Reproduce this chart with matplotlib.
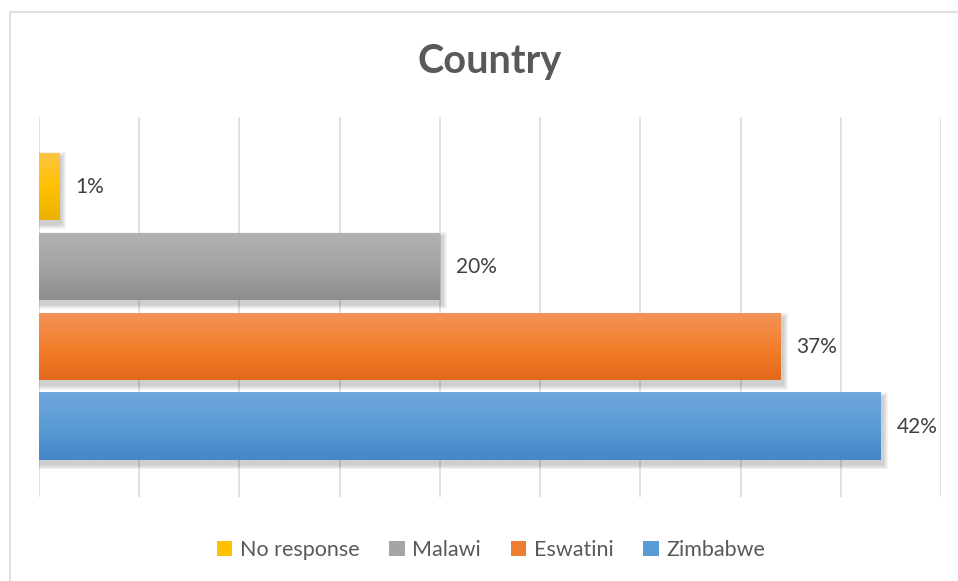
import numpy as np
import matplotlib
matplotlib.use("Agg")
import matplotlib.pyplot as plt
from matplotlib.colors import LinearSegmentedColormap
from matplotlib.patches import Rectangle, Patch

# survey share by country (percent)
countries = ["No response", "Malawi", "Eswatini", "Zimbabwe"]
shares = [1, 20, 37, 42]
# top, middle, bottom shades of each bar's gradient
shades = [
    ["#FBC443", "#FFC000", "#EBB300"],
    ["#B1B1B1", "#A3A3A3", "#8E8E8E"],
    ["#F29258", "#F47F2C", "#E2691A"],
    ["#70A7DD", "#5B9BD5", "#4487CA"],
]
legend_colors = ["#FFC000", "#A5A5A5", "#ED7D31", "#5B9BD5"]

W, H = 958, 581
fig = plt.figure(figsize=(W / 100, H / 100), dpi=100)
fig.patch.set_facecolor("white")

# chart area frame (only left/top edges fall inside the image)
fig.patches.append(Rectangle((10 / W, -0.05), 1.2, 1 - 12 / H + 0.05,
                             transform=fig.transFigure, fill=False,
                             edgecolor="#d9d9d9", linewidth=1.2))

ax_l, ax_r, ax_t, ax_b = 39, 941, 117, 497
ax = fig.add_axes([ax_l / W, 1 - ax_b / H, (ax_r - ax_l) / W, (ax_b - ax_t) / H])

xmax = 45
ylo, yhi = 3.875, -0.875
bar_h = 0.8375
ypos = np.arange(len(countries))

# pixel -> data scale for shadows
px_x = xmax / (ax_r - ax_l)
px_y = (ylo - yhi) / (ax_b - ax_t)

for y, v, cols in zip(ypos, shares, shades):
    # soft drop shadow, shifted down and to the right
    for k in range(5, 0, -1):
        ax.add_patch(Rectangle((2 * px_x - k * px_x, y - bar_h / 2 + 4 * px_y - k * px_y),
                               v + 2 * k * px_x, bar_h + 2 * k * px_y,
                               facecolor="black", edgecolor="none", alpha=0.04, zorder=2))
    cmap = LinearSegmentedColormap.from_list("g", cols)
    grad = np.linspace(0, 1, 64).reshape(-1, 1)
    ax.imshow(grad, extent=(0, v, y + bar_h / 2, y - bar_h / 2), origin="upper",
              aspect="auto", cmap=cmap, zorder=3, interpolation="bilinear")
    ax.annotate(f"{v}%", xy=(v, y), xytext=(16, 0), textcoords="offset pixels",
                ha="left", va="center", fontsize=15, color="#404040", family="Lato")

ax.set_xlim(0, xmax)
ax.set_ylim(ylo, yhi)
ax.set_aspect("auto")
ax.set_xticks(np.arange(0, xmax + 1, 5))
ax.set_yticks([])
ax.tick_params(axis="x", length=0, labelbottom=False)
ax.grid(axis="x", color="#d9d9d9", linewidth=1.1, zorder=0)
ax.set_axisbelow(True)
for s in ax.spines.values():
    s.set_visible(False)

fig.text(490 / W, 1 - 61 / H, "Country", ha="center", va="center",
         fontsize=28.5, fontweight="bold", color="#595959", family="Lato")

handles = [Patch(facecolor=c, edgecolor="none") for c in legend_colors]
fig.legend(handles, countries, loc="center", bbox_to_anchor=(491 / W, 1 - 550 / H),
           ncol=4, frameon=False, handlelength=0.7, handleheight=0.7,
           handletextpad=0.35, columnspacing=1.4,
           prop={"family": "Lato", "size": 15.5}, labelcolor="#595959")

fig.savefig("out.png", dpi=100, facecolor="white")
